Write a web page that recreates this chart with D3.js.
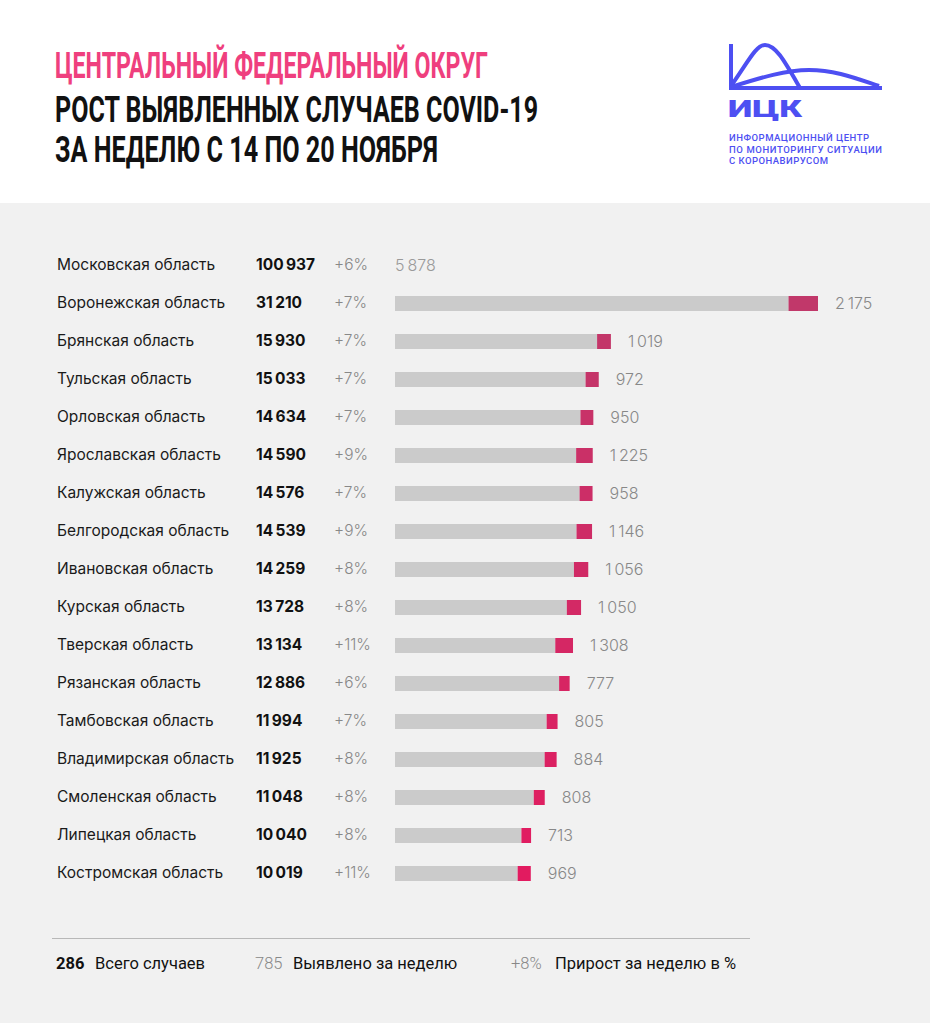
<!DOCTYPE html>
<html><head><meta charset="utf-8">
<script src="https://cdn.jsdelivr.net/npm/d3@7"></script>
<style>body{margin:0;background:#fff}svg{display:block}</style>
</head><body>
<script>
const regions = ["Московская область","Воронежская область","Брянская область","Тульская область","Орловская область","Ярославская область","Калужская область","Белгородская область","Ивановская область","Курская область","Тверская область","Рязанская область","Тамбовская область","Владимирская область","Смоленская область","Липецкая область","Костромская область"];
const totals = [100937,31210,15930,15033,14634,14590,14576,14539,14259,13728,13134,12886,11994,11925,11048,10040,10019];
const growthPct = [6,7,7,7,7,9,7,9,8,8,11,6,7,8,8,8,11];
const newCases = [5878,2175,1019,972,950,1225,958,1146,1056,1050,1308,777,805,884,808,713,969];
const titleLines = ["ЦЕНТРАЛЬНЫЙ ФЕДЕРАЛЬНЫЙ ОКРУГ","РОСТ ВЫЯВЛЕННЫХ СЛУЧАЕВ COVID-19","ЗА НЕДЕЛЮ С 14 ПО 20 НОЯБРЯ"];
const legendItems = [["286","Всего случаев"],["785","Выявлено за неделю"],["+8%","Прирост за неделю в %"]];
const logoLines = ["ИНФОРМАЦИОННЫЙ ЦЕНТР","ПО МОНИТОРИНГУ СИТУАЦИИ","С КОРОНАВИРУСОМ"];

const W=930,H=1023;
const fmt = d3.formatLocale({decimal:",",thousands:"\u2009",grouping:[3],currency:["",""]}).format(",d");
const svg = d3.select("body").append("svg").attr("width",W).attr("height",H);
svg.append("rect").attr("width",W).attr("height",H).attr("fill","#fff");
svg.append("rect").attr("y",203).attr("width",W).attr("height",H-203).attr("fill","#f1f1f1");

// Title
const tf = "Roboto, sans-serif";
const tSpecs = [{y:78,w:433,c:"#ef3f7e"},{y:122,w:483,c:"#111"},{y:162,w:383,c:"#111"}];
titleLines.forEach((t,i)=>{
  svg.append("text").attr("x",55).attr("y",tSpecs[i].y).text(t)
    .attr("font-family",tf).attr("font-weight",700).attr("font-size",36)
    .attr("fill",tSpecs[i].c).attr("textLength",tSpecs[i].w).attr("lengthAdjust","spacingAndGlyphs");
});

// Logo
const blue="#4d4ff2";
const lg = svg.append("g").attr("fill","none").attr("stroke",blue).attr("stroke-width",4);
lg.append("path").attr("d","M731,44 L731,88 L882,88");
lg.append("path").attr("d","M731,86 C748,62 756,45 765,45 C776,45 785,62 800,88").attr("stroke-linejoin","round");
lg.append("path").attr("d","M731,87 C760,78 785,70 809,70 C835,70 855,78 879,86");
svg.append("text").attr("x",728).attr("y",116.5).text("ИЦК").attr("font-family",tf).attr("font-weight",900)
  .attr("font-size",23).attr("fill",blue).attr("textLength",74).attr("lengthAdjust","spacingAndGlyphs");
const lw=[140,153,99];
logoLines.forEach((t,i)=>{
  svg.append("text").attr("x",729).attr("y",141+i*11.5).text(t).attr("font-family",tf).attr("font-weight",500)
   .attr("font-size",9.5).attr("fill",blue).attr("textLength",lw[i]).attr("lengthAdjust","spacing");
});

// Rows
const rows = regions.map((r,i)=>({name:r,total:totals[i],pct:growthPct[i],nw:newCases[i]}));
const y = d3.scalePoint().domain(regions).range([265,873]);
const x = d3.scaleLinear().domain([0,d3.max(rows.slice(1),d=>d.total)]).range([395,818]);
const pink = d3.scaleLinear().domain([1,rows.length-1]).range(["#c1386a","#e21b60"]).interpolate(d3.interpolateRgb);
const rf="Inter, 'Noto Sans', sans-serif";
const g = svg.append("g");
const row = g.selectAll("g.row").data(rows).join("g").attr("class","row").attr("transform",d=>`translate(0,${y(d.name)})`);
row.append("text").attr("x",57).attr("y",4.5).text(d=>d.name).attr("font-family",rf).attr("font-size",15.5).attr("fill","#1a1a1a");
row.append("text").attr("x",256).attr("y",4.5).text(d=>fmt(d.total)).attr("font-family",rf).attr("font-weight",700).attr("font-size",15.5).attr("fill","#111");
row.append("text").attr("x",334).attr("y",4.5).text(d=>"+"+d.pct+"%").attr("font-family",rf).attr("font-weight",300).attr("font-size",15.5).attr("fill","#888");
const barRows = row.filter((d,i)=>i>0);
barRows.append("rect").attr("x",x(0)).attr("y",-7).attr("height",15)
  .attr("width",d=>x(d.total-d.nw)-x(0)).attr("fill","#cbcbcb");
barRows.append("rect").attr("x",d=>x(d.total-d.nw)).attr("y",-7).attr("height",15)
  .attr("width",d=>x(d.total)-x(d.total-d.nw)).attr("fill",(d,i)=>pink(i+1));
row.append("text").attr("x",(d,i)=>i===0?395:x(d.total)+17).attr("y",6).text(d=>fmt(d.nw))
  .attr("font-family",rf).attr("font-weight",300).attr("font-size",16).attr("fill",(d,i)=>i===0?"#9a9a9a":"#888");

// Legend
svg.append("line").attr("x1",52).attr("x2",750).attr("y1",938.5).attr("y2",938.5).attr("stroke","#b8b8b8").attr("stroke-width",1);
const lx=[[56,95],[255,293],[511,555]];
legendItems.forEach((it,i)=>{
  svg.append("text").attr("x",lx[i][0]).attr("y",968.5).text(it[0]).attr("font-family",tf)
    .attr("font-weight",i===0?700:300).attr("font-size",16.5).attr("fill",i===0?"#111":"#888");
  svg.append("text").attr("x",lx[i][1]).attr("y",968.5).text(it[1]).attr("font-family",tf)
    .attr("font-size",16.5).attr("fill","#111");
});
</script>
</body></html>
